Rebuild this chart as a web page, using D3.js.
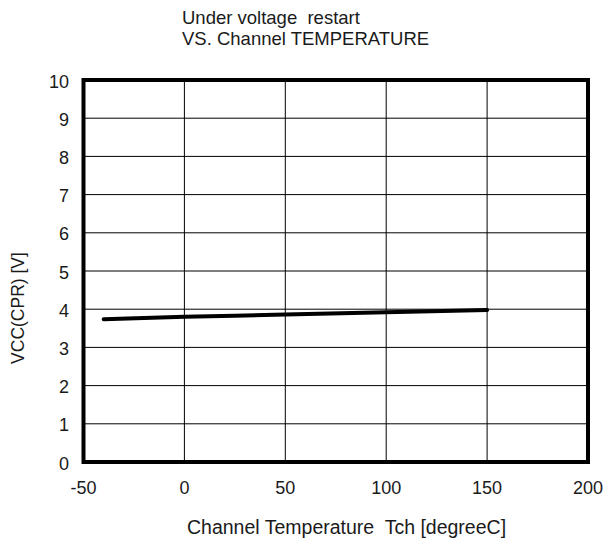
<!DOCTYPE html>
<html>
<head>
<meta charset="utf-8">
<script src="https://cdn.jsdelivr.net/npm/d3@7.9.0/dist/d3.min.js"></script>
<style>
  body { margin: 0; background: #fff; }
  text { font-family: "Liberation Sans", Arial, sans-serif; fill: #1a1a1a; white-space: pre; }
</style>
</head>
<body>
<svg width="607" height="542"></svg>
<script>
// data
const temps = [-40, 0, 25, 50, 100, 150];
const vcc = [3.74, 3.80, 3.83, 3.86, 3.92, 3.98];
const xTicks = [-50, 0, 50, 100, 150, 200];
const yTicks = [0, 1, 2, 3, 4, 5, 6, 7, 8, 9, 10];
const titleLines = ["Under voltage  restart", "VS. Channel TEMPERATURE"];

const svg = d3.select("svg");
const plotL = 83.5, plotR = 588, plotT = 80, plotB = 462;

let x = d3.scaleLinear().domain([-50, 200]).range([plotL, plotR]);
let y = d3.scaleLinear().domain([0, 10]).range([plotB, plotT]);

// grid lines
svg.append("g")
  .selectAll("line")
  .data(xTicks)
  .join("line")
  .attr("x1", (d) => x(d)).attr("x2", (d) => x(d))
  .attr("y1", plotT).attr("y2", plotB)
  .attr("stroke", "#000").attr("stroke-width", 1);

svg.append("g")
  .selectAll("line")
  .data(yTicks)
  .join("line")
  .attr("x1", plotL).attr("x2", plotR)
  .attr("y1", (d) => y(d)).attr("y2", (d) => y(d))
  .attr("stroke", "#000").attr("stroke-width", 1);

// thick frame
svg.append("rect")
  .attr("x", plotL).attr("y", plotT)
  .attr("width", plotR - plotL).attr("height", plotB - plotT)
  .attr("fill", "none").attr("stroke", "#000").attr("stroke-width", 4);

// tick labels
svg.append("g")
  .selectAll("text")
  .data(yTicks)
  .join("text")
  .attr("x", 69).attr("y", (d) => y(d) + 7.5)
  .attr("text-anchor", "end")
  .attr("font-size", 18)
  .text((d) => d);

svg.append("g")
  .selectAll("text")
  .data(xTicks)
  .join("text")
  .attr("x", (d) => x(d)).attr("y", 494)
  .attr("text-anchor", "middle")
  .attr("font-size", 18)
  .text((d) => d);

// the curve
let line = d3.line()
  .x((d, i) => x(temps[i]))
  .y((d) => y(d));

svg.append("path")
  .attr("d", line(vcc))
  .attr("fill", "none")
  .attr("stroke", "#000")
  .attr("stroke-width", 4)
  .attr("stroke-linecap", "round");

// titles
svg.append("g")
  .selectAll("text")
  .data(titleLines)
  .join("text")
  .attr("x", 182).attr("y", (d, i) => 24 + i * 21)
  .attr("font-size", 18.5)
  .text((d) => d);

svg.append("text")
  .attr("x", 187).attr("y", 534)
  .attr("font-size", 19.5)
  .text("Channel Temperature  Tch [degreeC]");

svg.append("text")
  .attr("transform", "translate(24,308) rotate(-90)")
  .attr("text-anchor", "middle")
  .attr("font-size", 17.5)
  .text("VCC(CPR) [V]");
</script>
</body>
</html>
